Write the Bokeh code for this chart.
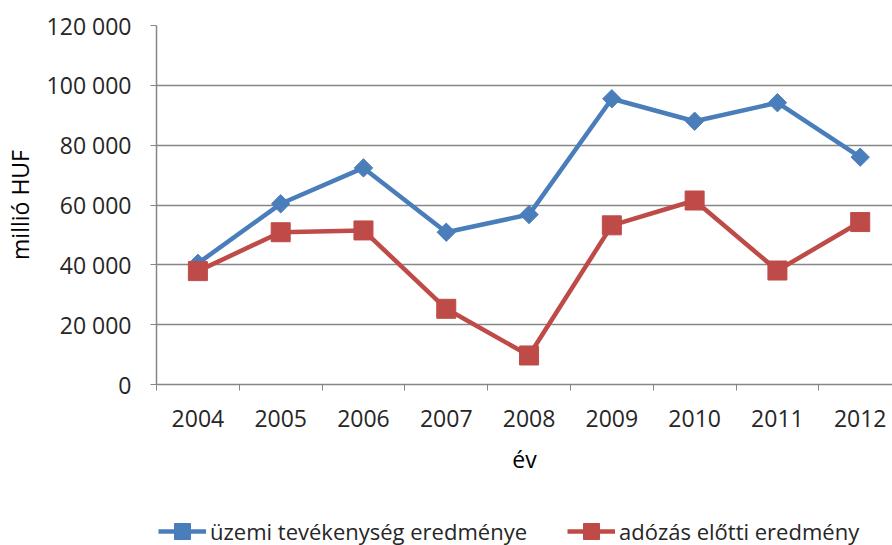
import numpy as np
from bokeh.plotting import figure
from bokeh.layouts import column
from bokeh.models import FixedTicker, Range1d, Legend, LegendItem
from bokeh.embed import file_html
from bokeh.resources import INLINE

years = ["2004", "2005", "2006", "2007", "2008", "2009", "2010", "2011", "2012"]
uzemi = [40500, 60400, 72400, 50900, 56800, 95500, 88000, 94200, 76000]
adozas = [37900, 50900, 51500, 25300, 9700, 53200, 61500, 38100, 54300]
y_ticks = [0, 20000, 40000, 60000, 80000, 100000, 120000]
y_tick_labels = ["0", "20 000", "40 000", "60 000", "80 000", "100 000", "120 000"]
series_names = ["üzemi tevékenység eredménye", "adózás előtti eredmény"]

BLUE = "#4A7EBB"
RED = "#BE4B48"
GRID = "#868686"
TXT = "#262626"
FONT = "Open Sans"

xs = list(range(len(years)))

p = figure(width=892, height=482,
           x_range=Range1d(-0.5, 8.39), y_range=Range1d(0, 120000),
           output_backend="svg", toolbar_location=None,
           min_border_left=153, min_border_right=0, min_border_top=25,
           min_border_bottom=98)
p.outline_line_color = None
p.background_fill_color = "white"
p.border_fill_color = "white"

# axes
p.xaxis.ticker = FixedTicker(ticks=xs, minor_ticks=[i - 0.5 for i in range(len(years) + 1)])
p.xaxis.major_label_overrides = {i: y for i, y in enumerate(years)}
p.xaxis.major_tick_out = 0
p.xaxis.major_tick_in = 0
p.xaxis.minor_tick_out = 6
p.xaxis.minor_tick_in = 0
p.xaxis.minor_tick_line_color = GRID
p.xaxis.axis_line_color = GRID
p.xaxis.major_label_standoff = 19
p.xaxis.axis_label = "év"
p.xaxis.axis_label_standoff = 13

p.yaxis.ticker = FixedTicker(ticks=y_ticks)
p.yaxis.major_label_overrides = {t: l for t, l in zip(y_ticks, y_tick_labels)}
p.yaxis.major_tick_out = 6
p.yaxis.major_tick_in = 0
p.yaxis.minor_tick_out = 0
p.yaxis.minor_tick_in = 0
p.yaxis.major_tick_line_color = GRID
p.yaxis.axis_line_color = GRID
p.yaxis.major_label_standoff = 19
p.yaxis.axis_label = "millió HUF"
p.yaxis.axis_label_standoff = 8

for ax in (p.xaxis, p.yaxis):
    ax.major_label_text_font = FONT
    ax.major_label_text_font_size = "23px"
    ax.major_label_text_color = TXT
    ax.axis_label_text_font = FONT
    ax.axis_label_text_font_size = "23px"
    ax.axis_label_text_font_style = "normal"
    ax.axis_label_text_color = "#000000"
    ax.axis_line_width = 1.5

p.xgrid.grid_line_color = None
p.ygrid.grid_line_color = GRID
p.ygrid.grid_line_width = 1.5

# series
p.line(xs, uzemi, line_color=BLUE, line_width=4.5)
p.scatter(xs, uzemi, marker="square", size=13, angle=np.pi / 4,
          fill_color=BLUE, line_color=BLUE)
p.line(xs, adozas, line_color=RED, line_width=4.5)
p.scatter(xs, adozas, marker="square", size=19,
          fill_color=RED, line_color=RED)

# legend strip (separate figure so the legend is not clipped);
# the series are re-drawn there outside its visible range, only to feed the legend glyphs
lf = figure(width=892, height=63, x_range=Range1d(0, 1), y_range=Range1d(-2, -1),
            output_backend="svg", toolbar_location=None,
            x_axis_type=None, y_axis_type=None, align="start",
            min_border_left=0, min_border_right=0, min_border_top=0, min_border_bottom=0)
lf.outline_line_color = None
lf.xgrid.grid_line_color = None
lf.ygrid.grid_line_color = None
lb1 = lf.line(xs, uzemi, line_color=BLUE, line_width=4.5)
lb2 = lf.scatter(xs, uzemi, marker="square", size=13, angle=np.pi / 4,
                 fill_color=BLUE, line_color=BLUE)
lr1 = lf.line(xs, adozas, line_color=RED, line_width=4.5)
lr2 = lf.scatter(xs, adozas, marker="square", size=19,
                 fill_color=RED, line_color=RED)

legend = Legend(items=[LegendItem(label=series_names[0], renderers=[lb1, lb2]),
                       LegendItem(label=series_names[1], renderers=[lr1, lr2])],
                orientation="horizontal", location=(2, -6),
                label_text_font=FONT, label_text_font_size="22px",
                label_text_color=TXT, glyph_width=48, glyph_height=40,
                label_standoff=4, spacing=40, padding=0, margin=0,
                border_line_color=None, background_fill_alpha=0)
lf.add_layout(legend, "center")

layout = column(p, lf, spacing=0)
open("out.html", "w").write(file_html(layout, INLINE))
